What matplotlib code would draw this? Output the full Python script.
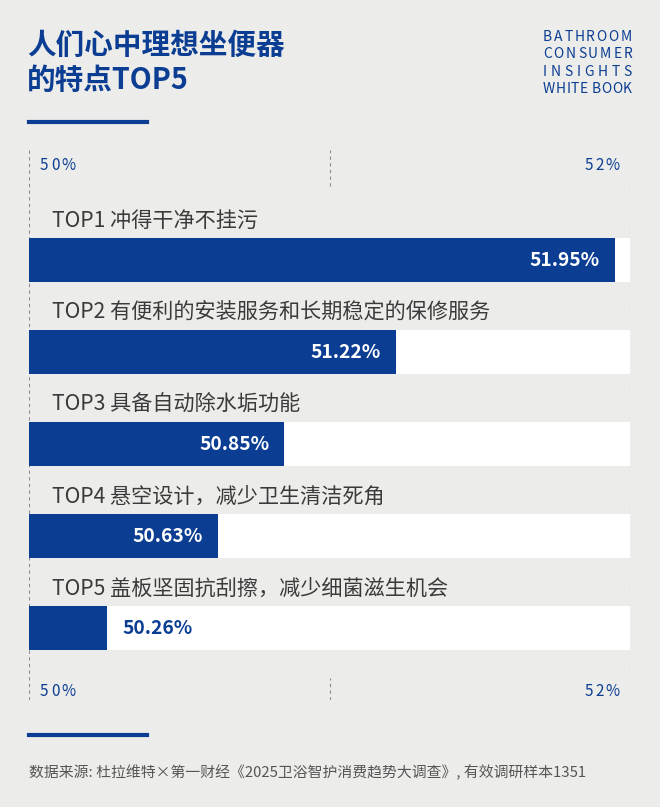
import numpy as np
import matplotlib.pyplot as plt

# data
labels = ['冲得干净不挂污', '有便利的安装服务和长期稳定的保修服务', '具备自动除水垢功能',
          '悬空设计，减少卫生清洁死角', '盖板坚固抗刮擦，减少细菌滋生机会']
ranks = ['TOP1', 'TOP2', 'TOP3', 'TOP4', 'TOP5']
values = [51.95, 51.22, 50.85, 50.63, 50.26]
x_min, x_max = 50, 52
tick_labels = ['50%', '52%']

BLUE = '#0b3e93'
BG = '#ececea'
GRAY = '#3a3a3a'
CJK = ['Noto Sans CJK SC', 'DejaVu Sans']

W, H = 660, 807
fig = plt.figure(figsize=(W / 100, H / 100), dpi=100, facecolor=BG)
renderer = fig.canvas.get_renderer()


def px(x, y):
    return x / W, 1 - y / H


def spaced(x0, x1, y, s, size, color=BLUE):
    # letter-spaced text fitted between x0 and x1 (pixels)
    widths = []
    for ch in s:
        t = fig.text(0, 0, ch if ch != ' ' else 'i', fontsize=size, family=CJK)
        widths.append(t.get_window_extent(renderer).width)
        t.remove()
    gap = (x1 - x0 - sum(widths)) / max(len(s) - 1, 1)
    x = x0
    for ch, w in zip(s, widths):
        if ch != ' ':
            fig.text(*px(x, y), ch, fontsize=size, family=CJK, color=color,
                     va='center', ha='left')
        x += w + gap


# title
fig.text(*px(27, 45), '人们心中理想坐便器', fontsize=20.6, fontweight='bold', color=BLUE,
         family=CJK, va='center')
fig.text(*px(27, 80), '的特点TOP5', fontsize=20.6, fontweight='bold', color=BLUE,
         family=CJK, va='center')
for i, s in enumerate(['BATHROOM', 'CONSUMER', 'INSIGHTS', 'WHITE BOOK']):
    spaced(543, 632, 37 + 17.4 * i, s, 10)

# short blue rules
for yy in (122, 735):
    fig.add_artist(plt.Line2D([29 / W, 147 / W], [1 - yy / H] * 2, color=BLUE, lw=3,
                              transform=fig.transFigure))

ax = fig.add_axes([29 / W, 1 - 700 / H, 601 / W, 550 / H])
ax.set_facecolor('none')
ax.set_xlim(x_min, x_max)
ax.set_ylim(4.78, -1.196)
ax.axis('off')

idx = np.arange(len(values))
dash = (0, (3, 3))
for xv in (x_min, x_max):
    ax.axvline(xv, color='#8c8c8c', lw=0.8, ls=dash, zorder=0)
mid = (x_min + x_max) / 2
ax.axvline(mid, ymin=0.935, ymax=1, color='#8c8c8c', lw=0.8, ls=dash, zorder=0)
ax.axvline(mid, ymin=0, ymax=0.04, color='#8c8c8c', lw=0.8, ls=dash, zorder=0)

ax.barh(idx, x_max - x_min, left=x_min, height=0.48, color='white', zorder=1)
ax.barh(idx, np.array(values) - x_min, left=x_min, height=0.48, color=BLUE, zorder=2)

for i, (rk, lb, v) in enumerate(zip(ranks, labels, values)):
    ax.text(50.075, i - 0.43, f'{rk} {lb}', fontsize=15.2, family=CJK, color=GRAY,
            va='center', ha='left')
    if v - x_min > 0.4:
        ax.text(v - 0.05, i, f'{v:.2f}%', fontsize=13.8, fontweight='bold', family=CJK,
                color='white', va='center', ha='right')
    else:
        ax.text(v + 0.05, i, f'{v:.2f}%', fontsize=13.8, fontweight='bold', family=CJK,
                color=BLUE, va='center', ha='left')

# axis value labels top and bottom
for yy in (165, 692):
    spaced(40, 76, yy, tick_labels[0], 11)
    spaced(585, 620, yy, tick_labels[1], 11)

fig.text(*px(29, 772), '数据来源: 杜拉维特×第一财经《2025卫浴智护消费趋势大调查》, 有效调研样本1351',
         fontsize=10.7, family=CJK, color='#555555', va='center')

fig.savefig('out.png', dpi=100, facecolor=BG)
